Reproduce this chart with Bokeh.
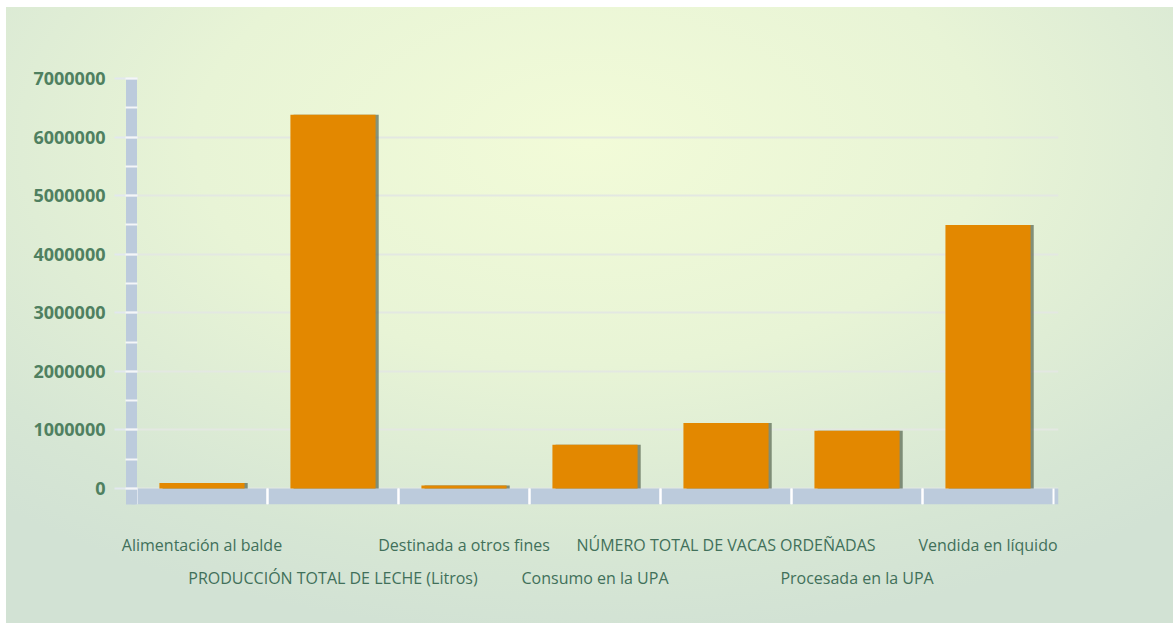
from bokeh.plotting import figure
from bokeh.models import (FactorRange, Range1d, CategoricalAxis, BoxAnnotation, CustomJSTickFormatter,
                          SingleIntervalTicker, NumeralTickFormatter, ColumnDataSource)
from bokeh.transform import dodge
from bokeh.embed import file_html
from bokeh.resources import INLINE

categories = ["Alimentación al balde", "PRODUCCIÓN TOTAL DE LECHE (Litros)",
              "Destinada a otros fines", "Consumo en la UPA",
              "NÚMERO TOTAL DE VACAS ORDEÑADAS", "Procesada en la UPA", "Vendida en líquido"]
values = [95000, 6380000, 50000, 745000, 1120000, 985000, 4500000]
y_max = 7000000
y_tick_step = 1000000

FONT = "Open Sans"
TXT = "#41705a"
YTXT = "#4f8060"
BAR = "#e38800"
AXBAR = "#bccbdc"

pad = 0.038
y_start = -273200   # room for the thick x-axis band below zero
src = ColumnDataSource(dict(cat=categories, val=values, base=[y_start] * len(categories),
                            zero=[0] * len(categories)))

p = figure(x_range=FactorRange(*categories, range_padding=pad, range_padding_units="absolute"),
           y_range=Range1d(y_start, y_max),
           width=1167, height=616, output_backend="svg", toolbar_location=None,
           x_axis_location=None, y_axis_location="left",
           min_border_left=125, min_border_right=115, min_border_top=71, min_border_bottom=119,
           styles={"margin-left": "6px", "margin-top": "7px",
                   "background": "radial-gradient(ellipse 75% 80% at 50% 22%, #f2fbd8 0%, #e8f4d6 45%, #d6e6d4 85%, #d2e2d4 100%)"})
p.background_fill_alpha = 0
p.border_fill_alpha = 0
p.outline_line_color = None
p.xgrid.grid_line_color = None
p.ygrid.grid_line_color = "#e3e8e2"
p.ygrid.grid_line_width = 2

# thick x-axis band (below zero) with white separators at category boundaries
p.add_layout(BoxAnnotation(top=0, fill_color=AXBAR, fill_alpha=1, line_color=None, level="underlay"))
for off in (-0.5, 0.5):
    p.segment(x0=dodge("cat", off, range=p.x_range), x1=dodge("cat", off, range=p.x_range),
              y0="base", y1="zero", source=src, line_color="white", line_width=2)

# shadow then bars
p.vbar(x=dodge("cat", 0.024, range=p.x_range), top="val", bottom=0, width=0.65, source=src,
       fill_color="#3f4f38", fill_alpha=0.6, line_color=None)
p.vbar(x="cat", top="val", bottom=0, width=0.65, source=src,
       fill_color=BAR, line_color=None)

# y axis
ya = p.yaxis[0]
ya.ticker = SingleIntervalTicker(interval=y_tick_step, num_minor_ticks=2)
ya.formatter = NumeralTickFormatter(format="0")
ya.axis_line_color = AXBAR
ya.axis_line_width = 11
ya.major_tick_line_color = "#e2e8ee"
ya.major_tick_line_width = 2
ya.major_tick_out = 17
ya.major_tick_in = 6
ya.minor_tick_line_color = "#f4f6f8"
ya.minor_tick_line_width = 2
ya.minor_tick_out = 6
ya.minor_tick_in = 6
ya.major_label_standoff = 9
ya.major_label_text_font = FONT
ya.major_label_text_font_style = "bold"
ya.major_label_text_font_size = "18px"
ya.major_label_text_color = YTXT

def label_axis(show, standoff):
    ax = CategoricalAxis()
    ax.axis_line_color = None
    ax.major_tick_line_color = None
    ax.minor_tick_line_color = None
    ax.formatter = CustomJSTickFormatter(args=dict(show=show),
                                         code="return (index % 2 == show) ? tick : ' ';")
    ax.major_label_text_font = FONT
    ax.major_label_text_font_size = "16px"
    ax.major_label_text_color = TXT
    ax.major_label_standoff = standoff
    return ax

p.add_layout(label_axis(0, 23), "below")
p.add_layout(label_axis(1, 2), "below")

open("out.html", "w").write(file_html(p, INLINE))
